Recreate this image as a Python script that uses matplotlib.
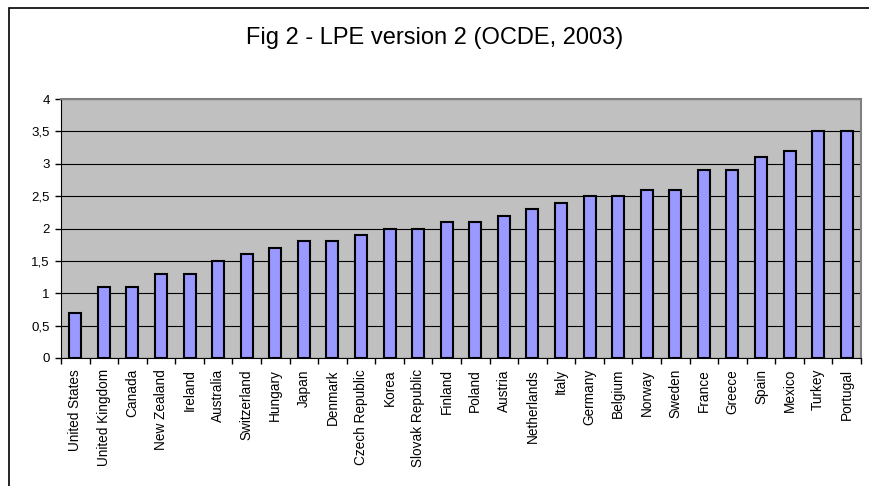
import matplotlib
matplotlib.use('Agg')
import matplotlib.pyplot as plt
from matplotlib.patches import Rectangle
import numpy as np

plt.rcParams['font.family'] = ['Liberation Sans', 'DejaVu Sans']

countries = ['United States', 'United Kingdom', 'Canada', 'New Zealand', 'Ireland',
             'Australia', 'Switzerland', 'Hungary', 'Japan', 'Denmark',
             'Czech Republic', 'Korea', 'Slovak Republic', 'Finland', 'Poland',
             'Austria', 'Netherlands', 'Italy', 'Germany', 'Belgium', 'Norway',
             'Sweden', 'France', 'Greece', 'Spain', 'Mexico', 'Turkey', 'Portugal']
lpe = [0.7, 1.1, 1.1, 1.3, 1.3, 1.5, 1.6, 1.7, 1.8, 1.8,
       1.9, 2.0, 2.0, 2.1, 2.1, 2.2, 2.3, 2.4, 2.5, 2.5, 2.6,
       2.6, 2.9, 2.9, 3.1, 3.2, 3.5, 3.5]
yticks = [0, 0.5, 1, 1.5, 2, 2.5, 3, 3.5, 4]
ytick_labels = ['0', '0,5', '1', '1,5', '2', '2,5', '3', '3,5', '4']

fig = plt.figure(figsize=(8.7, 4.86), dpi=100)

# outer chart frame (cut off on the right and bottom like the reference)
fig.patches.append(Rectangle((9 / 870, -0.02), 1.0, (486 - 8) / 486 + 0.02,
                             transform=fig.transFigure, fill=False,
                             edgecolor='black', linewidth=1.2))

ax = fig.add_axes([61 / 870, (486 - 358) / 486, 800 / 870, (358 - 99) / 486])
ax.set_facecolor('#C0C0C0')

x = np.arange(len(countries))
ax.bar(x, lpe, width=0.42, color='#9999FF', edgecolor='black', linewidth=1.5, zorder=3)

ax.set_xlim(-0.5, len(countries) - 0.5)
ax.set_ylim(0, 4)
ax.set_yticks(yticks)
ax.set_yticklabels(ytick_labels, fontsize=9.5)
ax.yaxis.grid(True, color='black', linewidth=0.8, zorder=1)
ax.set_axisbelow(True)

ax.set_xticks(x)
ax.set_xticklabels(countries, rotation=90, fontsize=9.8)
ax.tick_params(axis='x', length=0, pad=8)
ax.set_xticks(np.arange(len(countries) + 1) - 0.5, minor=True)
ax.tick_params(axis='x', which='minor', length=4, width=1, color='black')
ax.tick_params(axis='y', length=4, width=1, color='black', pad=4)

for side in ['top', 'right']:
    ax.spines[side].set_color('#808080')
    ax.spines[side].set_linewidth(1.5)
ax.spines['left'].set_color('black')
ax.spines['bottom'].set_color('black')

fig.text(0.5, 1 - 38 / 486, 'Fig 2 - LPE version 2 (OCDE, 2003)', ha='center', va='center',
         fontsize=17)

fig.savefig('out.png', dpi=100)
